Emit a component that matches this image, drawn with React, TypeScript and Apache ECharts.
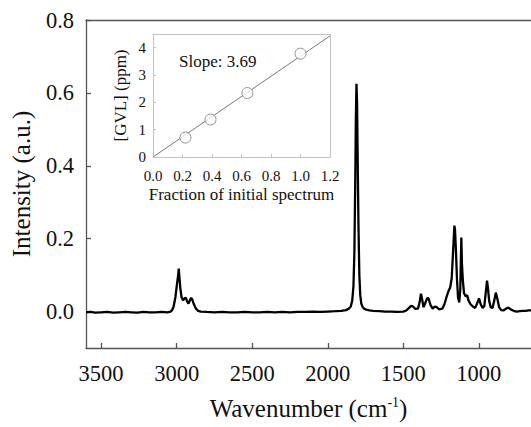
import React, { useEffect, useRef } from 'react';
import * as echarts from 'echarts';

// Main spectrum (wavenumber in cm^-1, intensity in a.u.)
const wavenumbers = [
  3600, 3570, 3540, 3500, 3460, 3420, 3380, 3340, 3300, 3260, 3220, 3180, 3140, 3100, 3060, 3040,
  3030, 3020, 3008, 2998, 2990, 2986, 2982, 2976, 2968, 2958, 2948, 2940, 2930, 2922, 2912, 2904,
  2896, 2886, 2872, 2858, 2840, 2800, 2750, 2700, 2650, 2600, 2550, 2500, 2450, 2400, 2350, 2300,
  2250, 2200, 2150, 2100, 2050, 2000, 1950, 1910, 1880, 1860, 1848, 1838, 1830, 1824, 1818, 1814,
  1810, 1806, 1802, 1797, 1791, 1785, 1778, 1770, 1760, 1745, 1725, 1700, 1660, 1620, 1580, 1540,
  1500, 1480, 1462, 1448, 1436, 1420, 1402, 1392, 1383, 1374, 1366, 1356, 1342, 1333, 1320, 1306,
  1292, 1280, 1262, 1242, 1228, 1214, 1202, 1190, 1180, 1170, 1162, 1158, 1152, 1145, 1138, 1130,
  1123, 1116, 1112, 1106, 1098, 1088, 1078, 1068, 1055, 1040, 1024, 1010, 999, 988, 975, 964,
  955, 946, 940, 932, 922, 910, 898, 888, 878, 866, 852, 838, 820, 804, 790, 770, 750, 730,
  710, 690, 670, 655,
];
const intensities = [
  -0.002, -0.001, -0.003, -0.002, -0.001, -0.003, -0.002, -0.001, -0.002, -0.003, -0.001, -0.002, -0.002, -0.001, -0.002, 0.0,
  0.004, 0.014, 0.04, 0.075, 0.1, 0.118, 0.095, 0.065, 0.04, 0.031, 0.036, 0.038, 0.027, 0.022, 0.031, 0.038,
  0.032, 0.02, 0.008, 0.002, 0.0, -0.001, -0.002, -0.001, -0.002, -0.002, -0.001, -0.002, -0.002, -0.001, -0.002, -0.001,
  -0.002, -0.001, -0.001, 0.0, -0.001, 0.0, 0.001, 0.002, 0.004, 0.008, 0.014, 0.03, 0.07, 0.16, 0.36, 0.53,
  0.625, 0.57, 0.42, 0.24, 0.1, 0.045, 0.022, 0.013, 0.008, 0.005, 0.003, 0.002, 0.001, 0.0, 0.0, -0.001,
  0.0, 0.003, 0.01, 0.016, 0.014, 0.007, 0.009, 0.026, 0.049, 0.03, 0.012, 0.022, 0.037, 0.036, 0.018, 0.008,
  0.014, 0.012, 0.006, 0.008, 0.02, 0.04, 0.055, 0.066, 0.09, 0.17, 0.236, 0.225, 0.17, 0.09, 0.04, 0.025,
  0.06, 0.203, 0.13, 0.085, 0.05, 0.042, 0.045, 0.03, 0.02, 0.014, 0.01, 0.024, 0.036, 0.02, 0.01, 0.015,
  0.05, 0.085, 0.065, 0.03, 0.012, 0.01, 0.03, 0.052, 0.036, 0.012, 0.004, 0.003, 0.008, 0.011, 0.006, 0.002, 0.0, 0.001,
  0.002, 0.002, 0.003, 0.003,
];
const xTicks = [3500, 3000, 2500, 2000, 1500, 1000];
const yTicks = [0, 0.2, 0.4, 0.6, 0.8];

// Inset calibration
const fractions = [0.22, 0.39, 0.64, 1.0];
const gvlPpm = [0.71, 1.37, 2.34, 3.78];
const fitX = [0, 1.2];
const fitY = [0, 4.43];
const insetXTicks = [0, 0.2, 0.4, 0.6, 0.8, 1.0, 1.2];
const insetYTicks = [0, 1, 2, 3, 4];

const serif = '"Liberation Serif", "Times New Roman", Times, serif';

export default function App() {
  const ref = useRef<HTMLDivElement>(null);
  useEffect(() => {
    if (!ref.current) return;
    const chart = echarts.init(ref.current, undefined, { renderer: 'svg' });
    const spectrum = wavenumbers.map((w, i) => [w, intensities[i]]);
    const points = fractions.map((f, i) => [f, gvlPpm[i]]);
    const fit = fitX.map((f, i) => [f, fitY[i]]);
    const mainLine = { color: '#555', width: 1.3 };
    const insetLine = { color: '#c4c4c4', width: 1 };
    const lbl = (size: number) => ({ fontSize: size, fontFamily: serif, color: '#111' });
    const option: any = {
      animation: false,
      backgroundColor: '#fff',
      textStyle: { fontFamily: serif, color: '#111' },
      grid: [
        { left: 86, top: 20, right: 0, bottom: 79 },
        { left: 153, top: 34, width: 177, height: 123 },
      ],
      xAxis: [
        {
          gridIndex: 0, type: 'value', inverse: true, min: 655, max: 3600, position: 'bottom',
          axisLine: { show: true, onZero: false, lineStyle: mainLine },
          axisTick: { show: true, inside: true, length: 5, customValues: xTicks, lineStyle: mainLine },
          axisLabel: {
            customValues: xTicks, margin: 14, ...lbl(22.5),
            formatter: (v: number) => String(v),
          },
          splitLine: { show: false },
          name: '{a|Wavenumber (cm}{b|-1}{a|)}',
          nameLocation: 'middle', nameGap: 47,
          nameTextStyle: {
            rich: {
              a: { ...lbl(25), lineHeight: 26 },
              b: { ...lbl(14), verticalAlign: 'top', lineHeight: 14 },
            },
          },
        },
        {
          gridIndex: 0, type: 'value', inverse: true, min: 655, max: 3600, position: 'top',
          axisLine: { show: true, onZero: false, lineStyle: mainLine },
          axisTick: { show: false }, axisLabel: { show: false }, splitLine: { show: false },
        },
        {
          gridIndex: 1, type: 'value', min: 0, max: 1.2, position: 'bottom',
          axisLine: { show: true, onZero: false, lineStyle: insetLine },
          axisTick: { show: true, inside: true, length: 3, customValues: insetXTicks, lineStyle: insetLine },
          axisLabel: {
            customValues: insetXTicks, margin: 11, ...lbl(15),
            formatter: (v: number) => v.toFixed(1),
          },
          splitLine: { show: false },
          name: 'Fraction of initial spectrum', nameLocation: 'middle', nameGap: 29,
          nameTextStyle: lbl(17),
        },
        {
          gridIndex: 1, type: 'value', min: 0, max: 1.2, position: 'top',
          axisLine: { show: true, onZero: false, lineStyle: insetLine },
          axisTick: { show: false }, axisLabel: { show: false }, splitLine: { show: false },
        },
      ],
      yAxis: [
        {
          gridIndex: 0, type: 'value', min: -0.1, max: 0.8, position: 'left',
          axisLine: { show: true, onZero: false, lineStyle: mainLine },
          axisTick: { show: true, inside: true, length: 5, customValues: yTicks, lineStyle: mainLine },
          axisLabel: {
            customValues: yTicks, margin: 12, ...lbl(22.5),
            formatter: (v: number) => v.toFixed(1),
          },
          splitLine: { show: false },
          name: 'Intensity (a.u.)', nameLocation: 'middle', nameGap: 52,
          nameTextStyle: lbl(25),
        },
        {
          gridIndex: 1, type: 'value', min: 0, max: 4.5, position: 'left',
          axisLine: { show: true, onZero: false, lineStyle: insetLine },
          axisTick: { show: true, inside: true, length: 3, customValues: insetYTicks, lineStyle: insetLine },
          axisLabel: {
            customValues: insetYTicks, margin: 7, ...lbl(15),
            formatter: (v: number) => String(v),
          },
          splitLine: { show: false },
          name: '[GVL] (ppm)', nameLocation: 'middle', nameGap: 24,
          nameTextStyle: lbl(17),
        },
        {
          gridIndex: 1, type: 'value', min: 0, max: 4.5, position: 'right',
          axisLine: { show: true, onZero: false, lineStyle: insetLine },
          axisTick: { show: false }, axisLabel: { show: false }, splitLine: { show: false },
        },
      ],
      graphic: [
        {
          type: 'text', left: 179, top: 53, z: 100,
          style: { text: 'Slope: 3.69', fontSize: 17, fontFamily: serif, fill: '#111' },
        },
      ],
      series: [
        {
          type: 'line', xAxisIndex: 0, yAxisIndex: 0, data: spectrum, showSymbol: false,
          lineStyle: { color: '#000', width: 2.3 }, silent: true,
        },
        {
          type: 'line', xAxisIndex: 2, yAxisIndex: 1, data: fit, showSymbol: false,
          lineStyle: { color: '#7a7a7a', width: 1 }, silent: true,
        },
        {
          type: 'scatter', xAxisIndex: 2, yAxisIndex: 1, data: points, symbol: 'circle', symbolSize: 11,
          itemStyle: { color: '#fff', borderColor: '#7a7a7a', borderWidth: 1 }, z: 5,
        },
      ],
    };
    chart.setOption(option);
    return () => chart.dispose();
  }, []);
  return <div ref={ref} style={{ position: 'absolute', left: 0, top: 0, width: 531, height: 427 }} />;
}
